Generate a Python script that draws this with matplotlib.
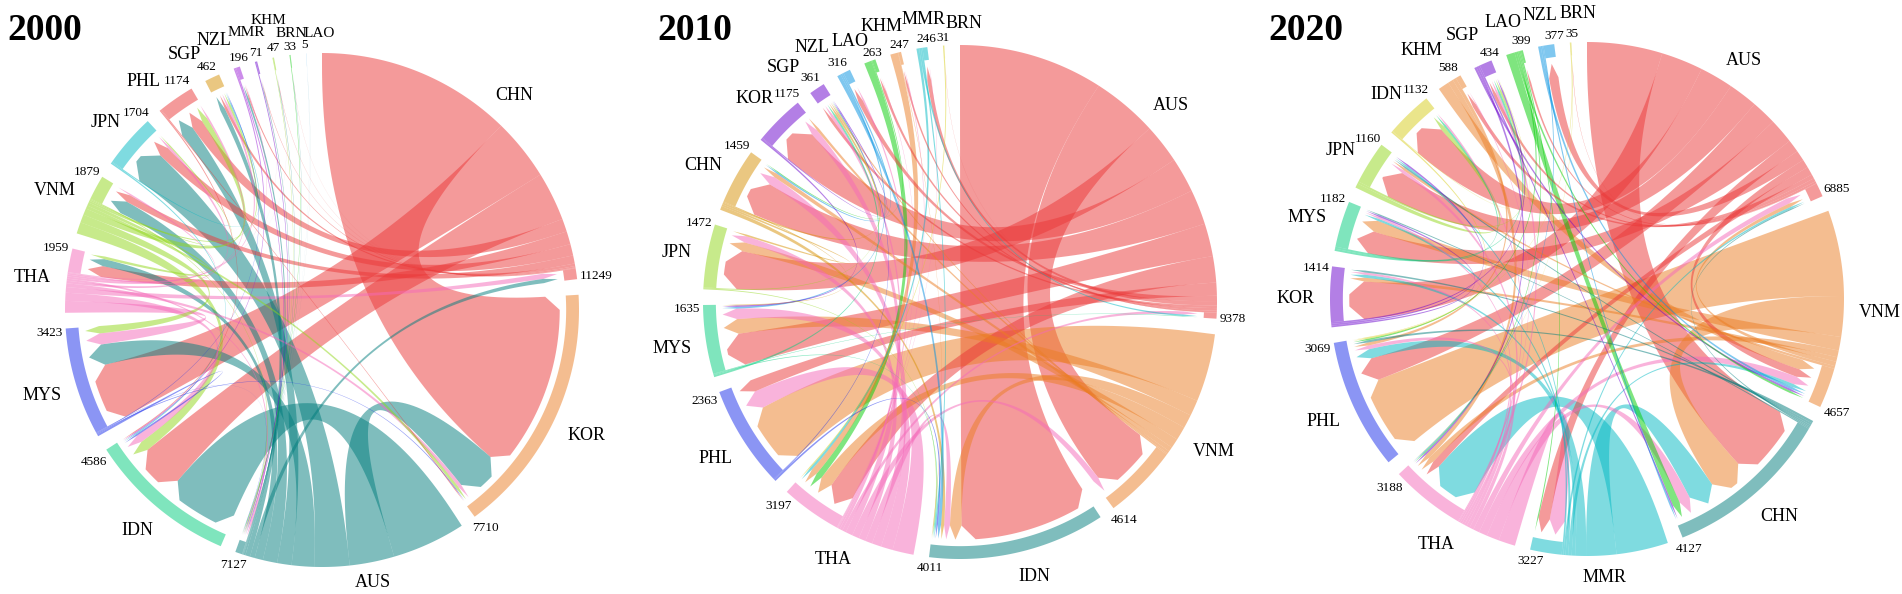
import numpy as np
import matplotlib.pyplot as plt
from matplotlib.patches import Polygon
from matplotlib.textpath import TextPath
from matplotlib.font_manager import FontProperties

plt.rcParams['font.family'] = ['Liberation Serif', 'DejaVu Serif']

W, H, DPI = 1902, 594, 100

RED = '#EB3737'; PEACH = '#EB7D23'; TEAL = '#007D7D'; MINT = '#00CD7D'
BLUE = '#192DEB'; PINK = '#F569B9'; YGREEN = '#91D719'; CYAN = '#00B9C3'
TAN = '#D79105'; PURPLE = '#6900CD'; SKY = '#0091E1'; GREEN = '#00CD00'
YELLOW = '#D7CD19'; VIOLET = '#9A1AD6'

# ---------------- 2000 ----------------
names_2000 = ['CHN', 'KOR', 'AUS', 'IDN', 'MYS', 'THA', 'VNM', 'JPN', 'PHL', 'SGP', 'NZL', 'MMR', 'KHM', 'BRN', 'LAO']
totals_2000 = [11249, 7710, 7127, 4586, 3423, 1959, 1879, 1704, 1174, 462, 196, 71, 47, 33, 5]
colors_2000 = [RED, PEACH, TEAL, MINT, BLUE, PINK, YGREEN, CYAN, RED, TAN, VIOLET, PURPLE, YGREEN, GREEN, SKY]
flows_2000 = [
    ('CHN', 'KOR', 6000), ('CHN', 'MYS', 1900), ('CHN', 'IDN', 1500), ('CHN', 'PHL', 400), ('CHN', 'THA', 400),
    ('CHN', 'JPN', 350), ('CHN', 'VNM', 250), ('CHN', 'SGP', 80), ('CHN', 'NZL', 40), ('CHN', 'MMR', 15),
    ('CHN', 'KHM', 10), ('CHN', 'BRN', 5),
    ('AUS', 'IDN', 2300), ('AUS', 'KOR', 1400), ('AUS', 'JPN', 1100), ('AUS', 'MYS', 700), ('AUS', 'PHL', 450),
    ('AUS', 'VNM', 450), ('AUS', 'THA', 260), ('AUS', 'CHN', 150), ('AUS', 'SGP', 150), ('AUS', 'NZL', 60),
    ('AUS', 'MMR', 20), ('AUS', 'KHM', 15), ('AUS', 'BRN', 10), ('AUS', 'LAO', 3),
    ('THA', 'MYS', 380), ('THA', 'IDN', 260), ('THA', 'CHN', 180), ('THA', 'KOR', 120), ('THA', 'JPN', 80),
    ('THA', 'AUS', 70), ('THA', 'SGP', 70), ('THA', 'PHL', 60), ('THA', 'VNM', 50), ('THA', 'NZL', 20),
    ('THA', 'MMR', 6), ('THA', 'KHM', 4),
    ('VNM', 'IDN', 350), ('VNM', 'MYS', 250), ('VNM', 'PHL', 200), ('VNM', 'KOR', 100), ('VNM', 'THA', 100),
    ('VNM', 'SGP', 60), ('VNM', 'JPN', 40), ('VNM', 'AUS', 30),
    ('MYS', 'IDN', 60), ('MYS', 'KOR', 30), ('MYS', 'SGP', 21), ('MYS', 'AUS', 12),
    ('JPN', 'IDN', 40), ('JPN', 'SGP', 30), ('PHL', 'IDN', 36), ('PHL', 'KOR', 30),
    ('NZL', 'IDN', 40), ('NZL', 'AUS', 36), ('MMR', 'AUS', 30), ('KHM', 'AUS', 18),
    ('BRN', 'AUS', 18), ('LAO', 'AUS', 2),
]

# ---------------- 2010 ----------------
names_2010 = ['AUS', 'VNM', 'IDN', 'THA', 'PHL', 'MYS', 'JPN', 'CHN', 'KOR', 'SGP', 'NZL', 'LAO', 'KHM', 'MMR', 'BRN']
totals_2010 = [9378, 4614, 4011, 3197, 2363, 1635, 1472, 1459, 1175, 361, 316, 263, 247, 246, 31]
colors_2010 = [RED, PEACH, TEAL, PINK, BLUE, MINT, YGREEN, TAN, PURPLE, PURPLE, SKY, GREEN, PEACH, CYAN, YELLOW]
flows_2010 = [
    ('AUS', 'IDN', 3300), ('AUS', 'VNM', 1500), ('AUS', 'JPN', 900), ('AUS', 'KOR', 800), ('AUS', 'CHN', 800),
    ('AUS', 'MYS', 750), ('AUS', 'THA', 600), ('AUS', 'PHL', 300), ('AUS', 'NZL', 120), ('AUS', 'MMR', 100),
    ('AUS', 'SGP', 60), ('AUS', 'LAO', 60), ('AUS', 'KHM', 40), ('AUS', 'BRN', 5),
    ('VNM', 'PHL', 1500), ('VNM', 'MYS', 350), ('VNM', 'IDN', 300), ('VNM', 'THA', 300), ('VNM', 'JPN', 210),
    ('VNM', 'CHN', 100), ('VNM', 'KOR', 60), ('VNM', 'SGP', 30),
    ('THA', 'PHL', 450), ('THA', 'MYS', 250), ('THA', 'CHN', 200), ('THA', 'IDN', 150), ('THA', 'JPN', 150),
    ('THA', 'VNM', 150), ('THA', 'KOR', 150), ('THA', 'AUS', 80), ('THA', 'SGP', 60), ('THA', 'NZL', 40),
    ('THA', 'KHM', 15), ('THA', 'MMR', 10), ('THA', 'LAO', 10),
    ('MYS', 'SGP', 40), ('MYS', 'IDN', 20), ('MYS', 'AUS', 13),
    ('JPN', 'IDN', 20), ('JPN', 'SGP', 20),
    ('CHN', 'IDN', 80), ('CHN', 'JPN', 40), ('CHN', 'SGP', 40), ('CHN', 'MYS', 20),
    ('PHL', 'IDN', 41), ('PHL', 'SGP', 20), ('KOR', 'MYS', 35), ('KOR', 'SGP', 20),
    ('LAO', 'THA', 150), ('LAO', 'CHN', 20), ('KHM', 'THA', 150), ('KHM', 'IDN', 10),
    ('MMR', 'THA', 60), ('MMR', 'AUS', 40), ('MMR', 'IDN', 36),
    ('NZL', 'IDN', 80), ('NZL', 'MYS', 40), ('NZL', 'CHN', 36), ('BRN', 'THA', 26),
]

# ---------------- 2020 ----------------
names_2020 = ['AUS', 'VNM', 'CHN', 'MMR', 'THA', 'PHL', 'KOR', 'MYS', 'JPN', 'IDN', 'KHM', 'SGP', 'LAO', 'NZL', 'BRN']
totals_2020 = [6885, 4657, 4127, 3227, 3188, 3069, 1414, 1182, 1160, 1132, 588, 434, 399, 377, 35]
colors_2020 = [RED, PEACH, TEAL, CYAN, PINK, BLUE, PURPLE, MINT, YGREEN, YELLOW, PEACH, PURPLE, GREEN, SKY, YELLOW]
flows_2020 = [
    ('AUS', 'CHN', 1800), ('AUS', 'KOR', 1000), ('AUS', 'IDN', 800), ('AUS', 'JPN', 700), ('AUS', 'PHL', 600),
    ('AUS', 'MYS', 600), ('AUS', 'MMR', 300), ('AUS', 'NZL', 250), ('AUS', 'VNM', 200), ('AUS', 'THA', 200),
    ('AUS', 'KHM', 100), ('AUS', 'SGP', 80), ('AUS', 'LAO', 50), ('AUS', 'BRN', 10),
    ('VNM', 'PHL', 1900), ('VNM', 'CHN', 900), ('VNM', 'MYS', 300), ('VNM', 'THA', 150), ('VNM', 'KOR', 100),
    ('VNM', 'AUS', 100), ('VNM', 'JPN', 60),
    ('CHN', 'PHL', 60), ('CHN', 'KOR', 50), ('CHN', 'JPN', 40), ('CHN', 'AUS', 30), ('CHN', 'MYS', 30),
    ('MMR', 'THA', 1200), ('MMR', 'CHN', 700), ('MMR', 'PHL', 250), ('MMR', 'KOR', 80), ('MMR', 'VNM', 80),
    ('MMR', 'MYS', 60), ('MMR', 'AUS', 50), ('MMR', 'JPN', 40),
    ('THA', 'MMR', 400), ('THA', 'CHN', 300), ('THA', 'VNM', 200), ('THA', 'AUS', 150), ('THA', 'PHL', 100),
    ('THA', 'JPN', 80), ('THA', 'KOR', 60), ('THA', 'SGP', 60), ('THA', 'MYS', 50), ('THA', 'IDN', 40),
    ('THA', 'KHM', 20),
    ('KOR', 'MYS', 40), ('KOR', 'JPN', 40), ('KOR', 'SGP', 40),
    ('MYS', 'SGP', 50), ('MYS', 'IDN', 50), ('JPN', 'IDN', 100), ('JPN', 'SGP', 50),
    ('IDN', 'PHL', 30), ('IDN', 'SGP', 12),
    ('KHM', 'VNM', 250), ('KHM', 'THA', 120), ('KHM', 'PHL', 80),
    ('SGP', 'VNM', 50), ('SGP', 'THA', 50), ('SGP', 'CHN', 40),
    ('LAO', 'CHN', 200), ('LAO', 'VNM', 50), ('LAO', 'PHL', 40), ('LAO', 'THA', 30), ('LAO', 'MMR', 29),
    ('NZL', 'VNM', 60), ('NZL', 'CHN', 40), ('NZL', 'THA', 27),
    ('BRN', 'PHL', 15), ('BRN', 'THA', 10),
]

panels = [
    ('2000', names_2000, totals_2000, colors_2000, flows_2000, (322, 310), 7),
    ('2010', names_2010, totals_2010, colors_2010, flows_2010, (960, 302), 657),
    ('2020', names_2020, totals_2020, colors_2020, flows_2020, (1587, 299), 1268),
]

small_labels = {('2000', n) for n in ['MMR', 'KHM', 'BRN', 'LAO']}

# labels that need a hand-placed spot: text centres in picture pixels
label_at = {
    ('2000', 'PHL'): (144, 80), ('2000', 'AUS'): (373, 581),
    ('2000', 'SGP'): (184, 53), ('2000', 'NZL'): (214, 39), ('2000', 'MMR'): (246, 31),
    ('2000', 'KHM'): (268, 19), ('2000', 'BRN'): (291, 32), ('2000', 'LAO'): (319, 32),
    ('2010', 'IDN'): (1034, 575),
    ('2010', 'SGP'): (783, 66), ('2010', 'NZL'): (812, 46), ('2010', 'LAO'): (850, 40),
    ('2010', 'KHM'): (882, 25), ('2010', 'MMR'): (924, 18), ('2010', 'BRN'): (964, 22),
    ('2020', 'MMR'): (1605, 576),
    ('2020', 'KHM'): (1422, 49), ('2020', 'SGP'): (1462, 34), ('2020', 'LAO'): (1503, 21),
    ('2020', 'NZL'): (1540, 14), ('2020', 'BRN'): (1578, 12),
}
number_at = {
    ('2000', 'PHL'): (177, 80),
    ('2000', 'SGP'): (207, 66), ('2000', 'NZL'): (239, 57), ('2000', 'MMR'): (256, 52),
    ('2000', 'KHM'): (273, 47), ('2000', 'BRN'): (290, 46), ('2000', 'LAO'): (305, 44),
    ('2010', 'SGP'): (810, 77), ('2010', 'NZL'): (837, 62), ('2010', 'LAO'): (872, 52),
    ('2010', 'KHM'): (899, 44), ('2010', 'MMR'): (926, 38), ('2010', 'BRN'): (943, 37),
    ('2020', 'KHM'): (1448, 67), ('2020', 'SGP'): (1490, 52), ('2020', 'LAO'): (1521, 40),
    ('2020', 'NZL'): (1554, 35), ('2020', 'BRN'): (1572, 33),
}

R_PX = 257.0
GAP = 3.5
R_BAND = 0.95
R_TIP = 0.925
R_BASE = 0.87
CHAMF = np.degrees(14 / (R_PX * R_TIP))
ALPHA = 0.5
L = 1.25

fp = FontProperties(family='Liberation Serif')


def pt(r, th):
    t = np.radians(th)
    return np.array([r * np.sin(t), r * np.cos(t)])


def arc(r, t1, t2):
    n = int(abs(t2 - t1) * 3) + 2
    t = np.radians(np.linspace(t1, t2, n))
    return np.column_stack([r * np.sin(t), r * np.cos(t)])


def curve(p0, p2, n=60):
    s = np.linspace(0, 1, n)[:, None]
    return (1 - s) ** 2 * p0 + s ** 2 * p2


def ribbon(a1, a2, b1, b2):
    c = min(CHAMF, (b2 - b1) / 2)
    parts = [arc(1.0, a1, a2),
             curve(pt(R_BAND, a2), pt(R_BASE, b1)),
             [pt(R_TIP, b1 + c)],
             arc(R_TIP, b1 + c, b2 - c),
             [pt(R_BASE, b2)],
             curve(pt(R_BASE, b2), pt(R_BAND, a1))]
    return np.vstack(parts)


def text_px(s, size):
    ext = TextPath((0, 0), s, size=size, prop=fp).get_extents()
    return ext.width * DPI / 72, size * 0.66 * DPI / 72


def place(ax, s, th, base_px, size, centre, fixed=None):
    w, h = text_px(s, size)
    if fixed is None:
        t = np.radians(th)
        r = base_px + w / 2 * abs(np.sin(t)) + h / 2 * abs(np.cos(t))
        x, y = r * np.sin(t), r * np.cos(t)
    else:
        x, y = fixed[0] - centre[0], centre[1] - fixed[1]
    ax.text(x / R_PX, (y - h / 2) / R_PX, s, ha='center', va='baseline',
            fontsize=size, clip_on=False)


fig = plt.figure(figsize=(W / DPI, H / DPI), dpi=DPI)

for year, names, totals, colors, flows, (cx, cy), tx in panels:
    side = 2 * L * R_PX
    ax = fig.add_axes([(cx - L * R_PX) / W, 1 - (cy + L * R_PX) / H, side / W, side / H])
    ax.set_xlim(-L, L)
    ax.set_ylim(-L, L)
    ax.axis('off')

    n = len(names)
    idx = {nm: i for i, nm in enumerate(names)}
    k = (360 - n * GAP) / sum(totals)
    starts, ends = [], []
    pos = 0.0
    for tot in totals:
        starts.append(pos)
        ends.append(pos + tot * k)
        pos += tot * k + GAP

    src_end, dst_end = {}, {}
    for i, nm in enumerate(names):
        outs = sorted([f for f in flows if f[0] == nm], key=lambda f: -f[2])
        ins = sorted([f for f in flows if f[1] == nm], key=lambda f: -f[2])
        wsum = sum(f[2] for f in outs) + sum(f[2] for f in ins)
        sc = (ends[i] - starts[i]) / wsum
        p = starts[i]
        for f in outs:
            src_end[f] = (p, p + f[2] * sc)
            p += f[2] * sc
        in_start = p
        for f in ins:
            dst_end[f] = (p, p + f[2] * sc)
            p += f[2] * sc
        if ins:
            band = np.vstack([arc(1.0, in_start, ends[i]), arc(R_BAND, ends[i], in_start)])
            ax.add_patch(Polygon(band, closed=True, facecolor=colors[i], alpha=ALPHA, lw=0))

    for f in sorted(flows, key=lambda f: -f[2]):
        a1, a2 = src_end[f]
        b1, b2 = dst_end[f]
        ax.add_patch(Polygon(ribbon(a1, a2, b1, b2), closed=True,
                             facecolor=colors[idx[f[0]]], alpha=ALPHA, lw=0))

    for i, nm in enumerate(names):
        size = 11 if (year, nm) in small_labels else 13
        mid = (starts[i] + ends[i]) / 2
        place(ax, nm, mid, 1.06 * R_PX, size, (cx, cy), label_at.get((year, nm)))
        place(ax, str(totals[i]), ends[i] - 0.5, 1.005 * R_PX + 2, 9.5, (cx, cy),
              number_at.get((year, nm)))

    fig.text(tx / W, 1 - 40 / H, year, fontsize=27, fontweight='bold', ha='left', va='baseline')

fig.savefig('out.png', dpi=DPI)
